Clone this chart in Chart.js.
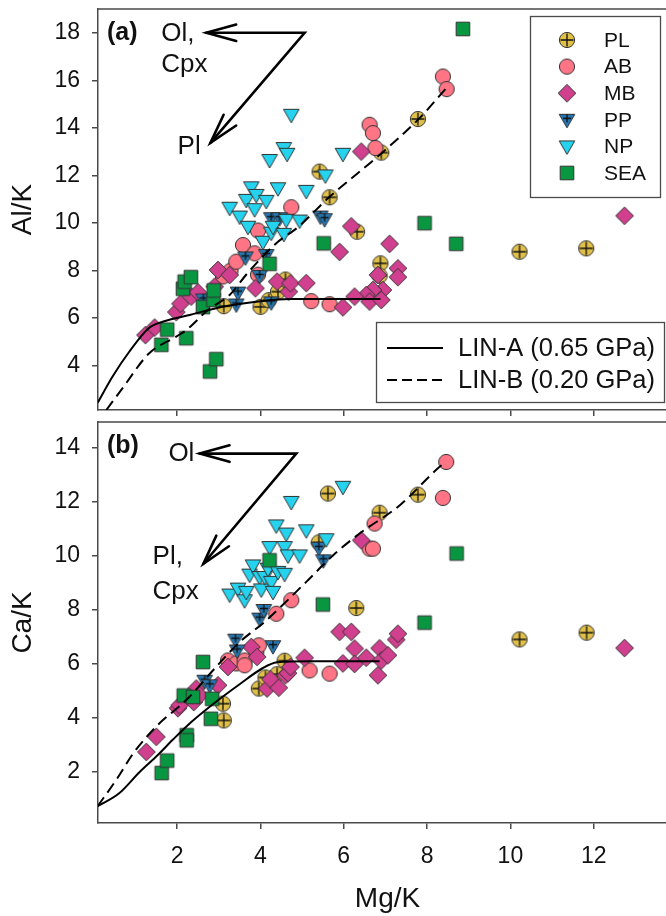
<!DOCTYPE html>
<html>
<head>
<meta charset="utf-8">
<script src="https://cdn.jsdelivr.net/npm/chart.js@4.4.0/dist/chart.umd.min.js"></script>
<style>
  html, body { margin:0; padding:0; background:#fff; overflow:hidden; width:666px; height:916px; }
  .panel { position:absolute; left:0; width:680px; }
  #wrapA { top:0; height:420px; }
  #wrapB { top:412px; height:504px; }
</style>
</head>
<body>
<div class="panel" id="wrapA"><canvas id="chartA" width="680" height="420"></canvas></div>
<div class="panel" id="wrapB"><canvas id="chartB" width="680" height="504"></canvas></div>
<script>
// Mg/K vs Al/K (a) and Ca/K (b)

const X_TICKS = [2, 4, 6, 8, 10, 12];
const YA_TICKS = [4, 6, 8, 10, 12, 14, 16, 18];
const YB_TICKS = [2, 4, 6, 8, 10, 12, 14];

// ---- panel (a): [Mg/K, Al/K]
const PL_A = [[3.12,6.5],[4.0,6.47],[4.2,6.75],[4.42,7.11],[4.6,7.62],[5.42,12.16],[5.66,11.08],
  [6.32,9.63],[6.88,8.3],[6.86,7.78],[6.9,12.96],[7.78,14.37],[10.22,8.79],[11.82,8.93]];
const AB_A = [[3.1,7.75],[3.28,7.99],[3.42,8.37],[3.58,9.07],[3.86,8.72],[3.94,7.82],[3.94,9.68],
  [4.74,10.66],[5.22,6.71],[5.66,6.58],[6.62,14.13],[6.7,13.78],[6.76,13.15],[8.38,16.16],[8.47,15.63]];
const MB_A = [[1.24,5.28],[1.46,5.6],[1.98,6.25],[2.08,6.6],[2.34,6.9],[2.5,7.08],[2.9,7.32],[2.98,8.02],
  [3.26,7.81],[3.88,7.25],[4.4,7.53],[4.68,7.11],[4.72,7.46],[5.1,7.47],[5.9,8.78],[6.18,9.86],[6.42,13.0],
  [7.1,9.12],[7.3,8.09],[7.3,7.72],[6.82,7.81],[6.94,7.18],[6.7,7.18],[6.54,6.97],[6.26,6.9],[5.98,6.45],
  [6.62,6.69],[6.9,6.76],[12.74,10.3]];
const PP_A = [[2.63,6.78],[3.42,6.57],[3.46,7.07],[3.64,8.55],[3.98,7.77],[4.14,8.65],[4.26,6.66],
  [4.26,10.2],[4.46,10.2],[5.44,10.27],[5.54,10.16]];
const NP_A = [[3.26,10.64],[3.5,10.27],[3.66,10.97],[3.7,9.84],[3.78,11.5],[3.86,10.58],[3.9,11.18],
  [4.06,9.21],[4.14,10.93],[4.22,12.65],[4.26,9.59],[4.3,9.84],[4.42,11.46],[4.56,13.15],[4.56,9.54],
  [4.62,10.13],[4.64,12.91],[4.74,14.55],[4.94,10.1],[5.1,11.35],[5.56,12.0],[5.98,12.91]];
const SEA_A = [[1.62,4.87],[1.76,5.51],[2.14,7.23],[2.18,7.53],[2.33,7.72],[2.22,5.15],[2.62,6.46],
  [2.87,6.76],[2.88,7.16],[2.79,3.75],[2.94,4.27],[4.22,8.28],[5.52,9.14],[7.94,9.99],[8.7,9.12],[8.86,18.16]];
const LINA_A_X = [0.09, 0.45, 0.85, 1.33, 1.65, 2.3, 3.09, 3.9, 4.7, 5.5, 6.88];
const LINA_A_Y = [2.43, 3.54, 4.58, 5.59, 5.84, 6.13, 6.47, 6.68, 6.8, 6.8, 6.8];
const LINB_A_X = [0.3, 0.69, 1.33, 1.98, 2.22, 2.74, 3.26, 3.7, 4.38, 4.9, 5.66, 6.86, 7.82, 8.46];
const LINB_A_Y = [2.13, 3.05, 4.52, 5.22, 5.49, 6.34, 6.97, 7.91, 9.15, 9.82, 11.1, 12.86, 14.41, 15.67];

// ---- panel (b): [Mg/K, Ca/K]
const PL_B = [[3.12,3.91],[3.1,4.53],[3.96,5.09],[4.12,5.5],[4.4,5.62],[4.58,6.12],[5.4,10.5],[5.62,12.31],
  [6.3,8.07],[6.86,11.6],[7.78,12.27],[10.22,6.91],[11.83,7.16]];
const AB_B = [[3.22,6.13],[3.42,6.02],[3.62,6.13],[3.62,5.95],[3.9,6.44],[3.96,6.69],[4.38,7.86],[4.74,8.36],
  [5.18,5.76],[5.66,5.64],[6.62,10.27],[6.7,10.27],[6.74,11.2],[8.38,12.15],[8.46,13.48]];
const MB_B = [[1.26,2.74],[1.5,3.3],[2.02,4.36],[2.06,4.47],[2.4,4.59],[2.46,5.09],[2.54,4.84],[2.98,5.21],
  [3.22,5.89],[3.78,6.63],[3.92,6.26],[4.16,5.09],[4.24,5.43],[4.44,5.12],[4.6,5.58],[4.66,5.66],[4.72,5.89],
  [5.06,6.23],[5.9,7.19],[5.98,6.02],[6.18,7.19],[6.26,6.57],[6.26,6.0],[6.42,10.58],[6.54,6.23],[6.82,5.58],
  [6.86,6.58],[6.9,6.13],[7.06,6.32],[7.26,6.9],[7.3,7.12],[12.74,6.59]];
const PP_B = [[2.66,5.38],[2.78,5.21],[3.4,6.9],[3.44,6.5],[3.98,7.68],[4.08,8.0],[4.3,6.66],[5.4,10.3],[5.51,9.84]];
const NP_B = [[3.26,8.57],[3.46,8.79],[3.62,8.36],[3.66,8.67],[3.74,9.31],[3.82,9.65],[3.98,9.22],[4.02,8.76],
  [4.1,9.22],[4.18,9.53],[4.22,10.33],[4.26,9.04],[4.3,8.67],[4.38,11.13],[4.42,9.41],[4.58,9.34],[4.58,10.33],
  [4.62,10.83],[4.66,10.02],[4.74,12.0],[4.94,10.02],[5.1,10.95],[5.58,10.62],[5.98,12.56]];
const SEA_B = [[1.63,1.96],[1.76,2.42],[2.16,4.83],[2.23,3.36],[2.23,3.17],[2.38,4.78],[2.62,6.07],[2.84,4.71],
  [2.81,3.97],[4.22,9.84],[5.5,8.2],[7.94,7.53],[8.71,10.09]];
const LINA_B_X = [0.09, 0.6, 1.1, 1.53, 1.9, 2.34, 2.85, 3.5, 4.06, 4.4, 5.2, 6.86];
const LINA_B_Y = [0.73, 1.2, 2.0, 2.62, 3.2, 3.85, 4.5, 5.25, 5.85, 6.06, 6.1, 6.1];
const LINB_B_X = [0.09, 0.54, 0.97, 1.53, 2.25, 2.9, 3.5, 4.1, 5.1, 5.74, 6.38, 7.34, 8.3, 8.45];
const LINB_B_Y = [0.73, 1.71, 2.74, 3.73, 4.71, 5.83, 6.81, 7.56, 9.04, 10.02, 10.83, 11.87, 13.3, 13.48];

const SERIES = ['PL', 'AB', 'MB', 'PP', 'NP', 'SEA'];
const LINE_NAMES = ['LIN-A (0.65 GPa)', 'LIN-B (0.20 GPa)'];

const FONT = "'Liberation Sans', Arial, sans-serif";
const AXIS = '#4a4a4a';
const DASH = [11, 6];

// marker images (circle+plus, circle, diamond, triangle+plus, triangle, square)
function marker(kind, fill, plus) {
  const c = document.createElement('canvas');
  c.width = c.height = 22;
  const g = c.getContext('2d');
  g.translate(11, 11);
  g.fillStyle = fill; g.strokeStyle = '#333'; g.lineWidth = 1;
  g.beginPath();
  if (kind === 'circle') g.arc(0, 0, 7.6, 0, Math.PI * 2);
  if (kind === 'diamond') { g.moveTo(0, -8.8); g.lineTo(8.8, 0); g.lineTo(0, 8.8); g.lineTo(-8.8, 0); g.closePath(); }
  if (kind === 'tri') { g.moveTo(-7.8, -5.5); g.lineTo(7.8, -5.5); g.lineTo(0, 8); g.closePath(); }
  if (kind === 'square') g.rect(-6.8, -6.8, 13.6, 13.6);
  g.fill(); g.stroke();
  if (plus) {
    const s = kind === 'tri' ? 4 : 6.5, dy = kind === 'tri' ? -1.5 : 0;
    g.strokeStyle = '#111'; g.lineWidth = 1.3;
    g.beginPath();
    g.moveTo(-s, dy); g.lineTo(s, dy);
    g.moveTo(0, dy - s); g.lineTo(0, dy + s);
    g.stroke();
  }
  return c;
}

const STYLE = {
  PL:  marker('circle', '#e1c04a', true),
  AB:  marker('circle', '#ff7585', false),
  MB:  marker('diamond', '#d1408e', false),
  PP:  marker('tri', '#2577b3', true),
  NP:  marker('tri', '#25d3ef', false),
  SEA: marker('square', '#089641', false),
};

const pts = arr => arr.map(([x, y]) => ({ x, y }));
const curve = (xs, ys) => xs.map((x, i) => ({ x, y: ys[i] }));

function datasets(groups, linA, linB) {
  const lines = [
    { label: LINE_NAMES[0], data: linA, showLine: true, borderColor: '#000', borderWidth: 2,
      pointRadius: 0, cubicInterpolationMode: 'monotone', fill: false },
    { label: LINE_NAMES[1], data: linB, showLine: true, borderColor: '#000', borderWidth: 2,
      borderDash: DASH, pointRadius: 0, cubicInterpolationMode: 'monotone', fill: false },
  ];
  // later legend entries sit on top, so reverse them
  const marks = SERIES.slice().reverse().map(name => ({
    label: name, data: pts(groups[name]), pointStyle: STYLE[name], pointRadius: 8, showLine: false,
  }));
  return lines.concat(marks);
}

function arrow(ctx, vx, vy, lx, ly, dx, dy) {
  ctx.save();
  ctx.strokeStyle = '#000'; ctx.lineWidth = 2.6; ctx.lineJoin = 'miter'; ctx.lineCap = 'round';
  ctx.beginPath(); ctx.moveTo(lx, ly); ctx.lineTo(vx, vy); ctx.lineTo(dx, dy); ctx.stroke();
  [[vx, vy, lx, ly], [vx, vy, dx, dy]].forEach(([x0, y0, x1, y1]) => {
    const a = Math.atan2(y1 - y0, x1 - x0), L = 31, w = 0.27;
    ctx.beginPath();
    ctx.moveTo(x1 - L * Math.cos(a - w), y1 - L * Math.sin(a - w));
    ctx.lineTo(x1, y1);
    ctx.lineTo(x1 - L * Math.cos(a + w), y1 - L * Math.sin(a + w));
    ctx.stroke();
  });
  ctx.restore();
}

function text(ctx, s, x, y, size, bold) {
  ctx.font = (bold ? 'bold ' : '') + size + 'px ' + FONT;
  ctx.fillStyle = '#111'; ctx.textAlign = 'left'; ctx.textBaseline = 'middle';
  ctx.fillText(s, x, y);
}

// frame + annotations; ann = { tag, arrow:[vertex, left, diag], labels:[[txt,x,y]] }
function decor(ann, withLegends) {
  return {
    id: 'decor',
    afterDraw(chart) {
      const { ctx, chartArea: a, scales: { x, y } } = chart;
      ctx.save();
      ctx.strokeStyle = AXIS; ctx.lineWidth = 1.5;
      ctx.beginPath(); ctx.moveTo(a.left, a.top); ctx.lineTo(a.right, a.top); ctx.lineTo(a.right, a.bottom); ctx.stroke();
      text(ctx, ann.tag, a.left + 9, a.top + 24, 25, true);
      const P = p => [x.getPixelForValue(p[0]), y.getPixelForValue(p[1])];
      const [v, l, d] = ann.arrow.map(P);
      arrow(ctx, v[0], v[1], l[0], l[1], d[0], d[1]);
      ann.labels.forEach(([s, px, py]) => { const q = P([px, py]); text(ctx, s, q[0], q[1], 26); });
      if (withLegends) {
        ctx.strokeStyle = AXIS; ctx.lineWidth = 1.3;
        ctx.strokeRect(530.5, 16.5, 130, 181);
        SERIES.forEach((name, i) => {
          const yy = 40 + i * 26.6;
          ctx.drawImage(STYLE[name], 567 - 11, yy - 11);
          text(ctx, name, 604, yy + 1, 21);
        });
        ctx.strokeStyle = AXIS; ctx.lineWidth = 1.3;
        ctx.strokeRect(376.5, 322.5, 288, 80);
        LINE_NAMES.forEach((name, i) => {
          const yy = 348 + i * 32;
          ctx.strokeStyle = '#000'; ctx.lineWidth = 2;
          ctx.setLineDash(i ? [10, 5] : []);
          ctx.beginPath(); ctx.moveTo(387, yy); ctx.lineTo(443, yy); ctx.stroke();
          ctx.setLineDash([]);
          text(ctx, name, 458, yy + 1, 25.5);
        });
      }
      ctx.restore();
    }
  };
}

function scales(yMin, yMax, yTicks, yTitle, showX, xHeight) {
  return {
    x: {
      type: 'linear', min: 0.1, max: 14,
      afterBuildTicks: s => { s.ticks = X_TICKS.map(v => ({ value: v })); },
      afterFit: s => { s.height = xHeight; s.paddingLeft = 0; s.paddingRight = 0; },
      grid: { drawOnChartArea: false, drawTicks: true, tickLength: 6, color: AXIS, lineWidth: 1.5 },
      border: { display: true, color: AXIS, width: 1.5 },
      ticks: { display: showX, color: '#111', font: { family: FONT, size: 23 }, padding: 14, maxRotation: 0 },
      title: { display: showX, text: 'Mg/K', color: '#111', font: { family: FONT, size: 28 }, padding: { top: 0, bottom: 0 } },
    },
    y: {
      type: 'linear', min: yMin, max: yMax,
      afterBuildTicks: s => { s.ticks = yTicks.map(v => ({ value: v })); },
      afterFit: s => { s.width = 98; s.paddingTop = 0; s.paddingBottom = 0; },
      grid: { drawOnChartArea: false, drawTicks: true, tickLength: 6, color: AXIS, lineWidth: 1.5 },
      border: { display: true, color: AXIS, width: 1.5 },
      ticks: { color: '#111', font: { family: FONT, size: 23 }, padding: 12 },
      title: { display: true, text: yTitle, color: '#111', font: { family: FONT, size: 28 }, padding: { top: 6, bottom: 0 } },
    },
  };
}

function makeChart(id, groups, linA, linB, sc, pad, plugin) {
  return new Chart(document.getElementById(id), {
    type: 'scatter',
    data: { datasets: datasets(groups, linA, linB) },
    options: {
      responsive: false, animation: false, devicePixelRatio: 1,
      layout: { padding: pad, autoPadding: false },
      plugins: { legend: { display: false }, tooltip: { enabled: false } },
      scales: sc,
    },
    plugins: [plugin],
  });
}

makeChart('chartA',
  { PL: PL_A, AB: AB_A, MB: MB_A, PP: PP_A, NP: NP_A, SEA: SEA_A },
  curve(LINA_A_X, LINA_A_Y), curve(LINB_A_X, LINB_A_Y),
  scales(2.13, 19.0, YA_TICKS, 'Al/K', false, 10),
  { top: 9, right: 3, left: 0, bottom: 0 },
  decor({ tag: '(a)', arrow: [[5.06, 18.0], [2.70, 18.0], [2.80, 13.37]],
          labels: [['Ol,', 1.62, 17.96], ['Cpx', 1.62, 16.65], ['Pl', 2.01, 13.2]] }, true));

makeChart('chartB',
  { PL: PL_B, AB: AB_B, MB: MB_B, PP: PP_B, NP: NP_B, SEA: SEA_B },
  curve(LINA_B_X, LINA_B_Y), curve(LINB_B_X, LINB_B_Y),
  scales(0.11, 14.96, YB_TICKS, 'Ca/K', true, 93),
  { top: 10, right: 3, left: 0, bottom: 0 },
  decor({ tag: '(b)', arrow: [[4.86, 13.79], [2.54, 13.79], [2.63, 9.71]],
          labels: [['Ol', 1.79, 13.79], ['Pl,', 1.41, 9.97], ['Cpx', 1.41, 8.68]] }, false));
</script>
</body>
</html>
